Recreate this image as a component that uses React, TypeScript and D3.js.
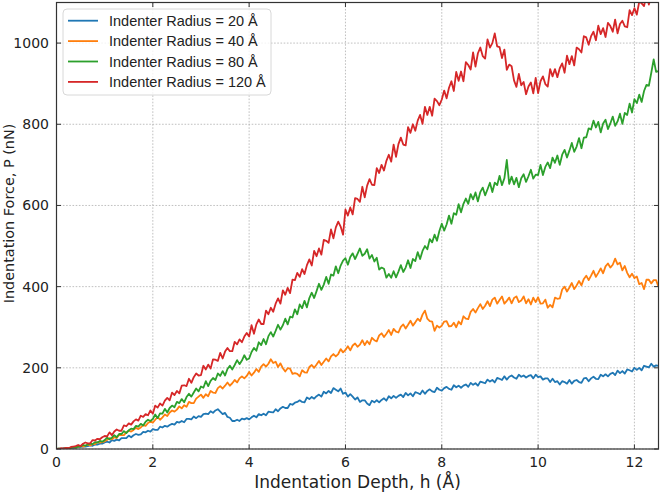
import React from "react";
import * as d3 from "d3";

// Indentation depth sampled every 0.05 Å from 0 to 12.5 Å
const depthStep = 0.05;

const seriesLabels = [
  "Indenter Radius = 20 Å",
  "Indenter Radius = 40 Å",
  "Indenter Radius = 80 Å",
  "Indenter Radius = 120 Å",
];

const seriesColors = ["#1f77b4", "#ff7f0e", "#2ca02c", "#d62728"];

// Indentation force P (nN) for each indenter radius, one row per 1 Å of depth
const force20 = [
  0, 1, 0, 2, 1, 2, 3, 3, 3, 5, 5, 6, 6, 7, 9, 8, 11, 11, 13, 13,
  16, 18, 16, 22, 20, 23, 21, 27, 27, 27, 33, 29, 34, 37, 35, 36, 42, 41, 45, 43,
  49, 47, 47, 55, 53, 57, 55, 59, 62, 60, 67, 65, 69, 66, 74, 74, 73, 80, 76, 81,
  79, 86, 87, 86, 93, 89, 95, 98, 92, 86, 89, 79, 77, 69, 69, 72, 69, 75, 73, 76,
  73, 78, 82, 78, 86, 83, 87, 83, 92, 91, 90, 98, 93, 100, 104, 101, 101, 111, 109, 114,
  116, 120, 116, 115, 127, 123, 128, 124, 130, 134, 129, 141, 137, 143, 138, 150, 146, 142, 149, 136,
  139, 129, 135, 129, 122, 127, 116, 120, 120, 112, 108, 119, 115, 120, 115, 121, 125, 119, 130, 125,
  131, 126, 131, 134, 128, 138, 132, 137, 130, 140, 138, 135, 144, 136, 143, 147, 142, 140, 151, 146,
  144, 150, 153, 148, 146, 157, 152, 156, 151, 156, 159, 153, 163, 158, 162, 156, 166, 164, 162, 171,
  166, 170, 164, 175, 173, 170, 179, 171, 178, 181, 176, 173, 183, 178, 181, 176, 180, 182, 174, 183,
  177, 179, 171, 174, 174, 165, 173, 165, 167, 159, 167, 165, 161, 170, 161, 168, 170, 165, 163, 174,
  175, 167, 174, 178, 173, 172, 183, 179, 184, 179, 185, 188, 182, 193, 187, 192, 186, 196, 194, 191,
  200, 195, 200, 194, 205, 203, 201, 210, 203, 206, 205,
];

const force40 = [
  0, 1, 0, 1, 3, 1, 3, 5, 3, 6, 8, 6, 8, 11, 9, 12, 12, 17, 16, 17,
  19, 22, 27, 24, 29, 27, 35, 34, 34, 41, 45, 43, 47, 52, 49, 53, 59, 57, 64, 68,
  65, 72, 79, 72, 78, 85, 81, 90, 95, 92, 97, 105, 100, 108, 104, 116, 113, 113, 124, 129,
  134, 126, 135, 130, 143, 139, 138, 150, 155, 149, 156, 164, 156, 162, 170, 164, 174, 179, 174, 180,
  190, 181, 188, 197, 190, 203, 209, 203, 210, 221, 212, 215, 202, 211, 199, 191, 199, 198, 185, 187,
  185, 179, 194, 189, 188, 202, 207, 200, 208, 217, 207, 215, 223, 216, 228, 234, 228, 234, 246, 238,
  244, 253, 243, 255, 260, 252, 257, 268, 256, 266, 258, 274, 268, 265, 280, 285, 276, 284, 293, 281,
  296, 289, 287, 301, 307, 297, 306, 316, 304, 312, 321, 315, 331, 341, 321, 315, 314, 291, 304, 299,
  304, 314, 315, 302, 303, 311, 300, 314, 307, 327, 321, 320, 338, 345, 336, 347, 357, 345, 353, 364,
  352, 368, 373, 358, 367, 376, 358, 365, 373, 359, 372, 376, 362, 366, 376, 359, 369, 356, 373, 362,
  374, 358, 359, 368, 348, 355, 349, 373, 370, 371, 393, 400, 388, 398, 409, 394, 403, 414, 403, 419,
  427, 416, 427, 439, 424, 434, 445, 433, 450, 457, 447, 454, 469, 455, 459, 440, 451, 434, 423, 432,
  421, 425, 406, 409, 394, 417, 417, 408, 416, 416, 400,
];

const force80 = [
  0, 1, 0, 1, 2, 2, 3, 5, 4, 6, 6, 10, 8, 11, 13, 12, 17, 16, 20, 18,
  22, 28, 24, 28, 34, 29, 37, 37, 44, 39, 46, 50, 49, 57, 55, 62, 58, 67, 72, 69,
  74, 85, 76, 88, 87, 99, 90, 101, 107, 103, 116, 113, 123, 115, 128, 136, 129, 139, 149, 142,
  154, 151, 167, 155, 168, 175, 170, 186, 180, 192, 181, 197, 205, 196, 207, 219, 209, 218, 231, 220,
  223, 239, 249, 242, 263, 256, 271, 258, 278, 288, 277, 291, 306, 294, 305, 321, 307, 326, 324, 344,
  332, 356, 347, 365, 349, 372, 385, 372, 389, 407, 392, 405, 424, 407, 430, 427, 450, 433, 452, 464,
  470, 454, 473, 482, 468, 481, 494, 476, 481, 492, 469, 478, 462, 471, 442, 447, 444, 422, 431, 422,
  438, 423, 437, 453, 436, 447, 465, 446, 468, 463, 485, 468, 488, 500, 492, 517, 509, 528, 513, 537,
  555, 538, 553, 575, 555, 581, 577, 603, 583, 604, 617, 604, 628, 615, 632, 610, 633, 644, 625, 640,
  656, 633, 656, 650, 673, 650, 667, 712, 653, 671, 652, 668, 645, 667, 677, 658, 672, 688, 666, 676,
  675, 700, 675, 695, 706, 692, 718, 705, 723, 700, 725, 737, 718, 735, 754, 732, 745, 766, 741, 767,
  768, 790, 787, 809, 792, 806, 780, 802, 811, 788, 802, 819, 796, 807, 826, 801, 828, 823, 851, 829,
  862, 852, 873, 855, 882, 897, 895, 927, 960, 929, 931,
];

const force120 = [
  0, 0, 2, 1, 3, 2, 5, 6, 7, 10, 7, 13, 16, 14, 14, 22, 21, 25, 24, 29,
  32, 31, 41, 34, 43, 48, 45, 45, 58, 56, 63, 60, 68, 73, 70, 82, 79, 86, 83, 95,
  87, 107, 102, 112, 107, 119, 126, 120, 139, 133, 143, 137, 156, 157, 155, 173, 163, 177, 186, 181,
  182, 205, 196, 208, 198, 221, 220, 217, 237, 223, 240, 249, 241, 241, 264, 258, 270, 263, 277, 286,
  277, 305, 284, 307, 319, 308, 308, 341, 332, 348, 338, 358, 371, 358, 391, 380, 397, 384, 417, 416,
  434, 424, 443, 431, 453, 467, 452, 488, 475, 494, 479, 515, 513, 508, 541, 519, 546, 560, 548, 528,
  590, 575, 595, 578, 618, 616, 609, 646, 620, 649, 665, 651, 650, 692, 680, 700, 686, 710, 725, 708,
  750, 720, 751, 767, 750, 748, 793, 779, 800, 784, 809, 823, 801, 843, 823, 843, 821, 863, 857, 847,
  861, 883, 864, 890, 906, 882, 929, 907, 930, 906, 953, 946, 935, 977, 942, 975, 989, 968, 962, 1009,
  989, 1000, 1024, 992, 990, 963, 984, 934, 947, 943, 908, 892, 924, 896, 904, 874, 893, 903, 876, 914,
  877, 906, 918, 899, 893, 936, 918, 936, 916, 938, 950, 927, 969, 948, 968, 945, 989, 985, 977, 1017,
  1014, 996, 1017, 1028, 1007, 1043, 1022, 1037, 1015, 1050, 1042, 1028, 1058, 1024, 1047, 1055, 1041, 1039, 1081, 1069,
  1086, 1070, 1102, 1098, 1091, 1120, 1095, 1116, 1126, 1111, 1107,
];

const seriesValues = [force20, force40, force80, force120];

const xTicks = [0, 2, 4, 6, 8, 10, 12];
const yTicks = [0, 200, 400, 600, 800, 1000];

const xLabel = "Indentation Depth, h (Å)";
const yLabel = "Indentation Force, P (nN)";

const W = 661;
const H = 496;
const plot = { left: 56.5, right: 658.5, top: 2.5, bottom: 449 };

const tickFont = "'DejaVu Sans', sans-serif";
const legendFont = "'Liberation Sans', Arial, sans-serif";

export default function App() {
  const x = d3.scaleLinear().domain([0, 12.5]).range([plot.left, plot.right]);
  const y = d3.scaleLinear().domain([0, 1100]).range([plot.bottom, plot.top]);

  const line = d3
    .line<number>()
    .x((_, i) => x(i * depthStep))
    .y((d) => y(d));

  const tickLen = 4.5;
  const legend = { x: 63, y: 9, w: 208, h: 86, rowH: 20.4 };

  return (
    <svg
      width={W}
      height={H}
      style={{ position: "absolute", left: 0, top: 0, background: "#fff" }}
    >
      <defs>
        <clipPath id="plot-clip">
          <rect
            x={plot.left}
            y={plot.top}
            width={plot.right - plot.left}
            height={plot.bottom - plot.top}
          />
        </clipPath>
      </defs>

      {/* grid */}
      <g stroke="#b0b0b0" strokeWidth={0.8} strokeDasharray="1.6,1.6">
        {xTicks.map((t) => (
          <line key={`gx${t}`} x1={x(t)} x2={x(t)} y1={plot.top} y2={plot.bottom} />
        ))}
        {yTicks.map((t) => (
          <line key={`gy${t}`} x1={plot.left} x2={plot.right} y1={y(t)} y2={y(t)} />
        ))}
      </g>

      {/* series */}
      <g clipPath="url(#plot-clip)" fill="none" strokeWidth={1.8} strokeLinejoin="round">
        {seriesValues.map((vals, k) => (
          <path key={k} d={line(vals) ?? ""} stroke={seriesColors[k]} />
        ))}
      </g>

      {/* frame */}
      <rect
        x={plot.left}
        y={plot.top}
        width={plot.right - plot.left}
        height={plot.bottom - plot.top}
        fill="none"
        stroke="#333"
        strokeWidth={1.2}
      />

      {/* inward ticks on all four sides */}
      <g stroke="#333" strokeWidth={1}>
        {xTicks.map((t) => (
          <g key={`tx${t}`}>
            <line x1={x(t)} x2={x(t)} y1={plot.bottom} y2={plot.bottom - tickLen} />
            <line x1={x(t)} x2={x(t)} y1={plot.top} y2={plot.top + tickLen} />
          </g>
        ))}
        {yTicks.map((t) => (
          <g key={`ty${t}`}>
            <line x1={plot.left} x2={plot.left + tickLen} y1={y(t)} y2={y(t)} />
            <line x1={plot.right} x2={plot.right - tickLen} y1={y(t)} y2={y(t)} />
          </g>
        ))}
      </g>

      {/* tick labels */}
      <g fontFamily={tickFont} fontSize={14} fill="#222">
        {xTicks.map((t) => (
          <text key={`lx${t}`} x={x(t)} y={467} textAnchor="middle">
            {t}
          </text>
        ))}
        {yTicks.map((t) => (
          <text key={`ly${t}`} x={49} y={y(t)} dy="0.36em" textAnchor="end">
            {t}
          </text>
        ))}
      </g>

      {/* axis titles */}
      <text
        x={(plot.left + plot.right) / 2}
        y={488}
        textAnchor="middle"
        fontFamily={tickFont}
        fontSize={17}
        fill="#222"
      >
        {xLabel}
      </text>
      <text
        transform="translate(14, 213.5) rotate(-90)"
        textAnchor="middle"
        fontFamily={tickFont}
        fontSize={14.4}
        fill="#222"
      >
        {yLabel}
      </text>

      {/* legend */}
      <g>
        <rect
          x={legend.x}
          y={legend.y}
          width={legend.w}
          height={legend.h}
          rx={4}
          fill="#fff"
          fillOpacity={0.8}
          stroke="#d8d8d8"
          strokeWidth={1}
        />
        {seriesLabels.map((label, k) => {
          const ly = legend.y + 11.7 + k * legend.rowH;
          return (
            <g key={label}>
              <line
                x1={legend.x + 5}
                x2={legend.x + 35}
                y1={ly}
                y2={ly}
                stroke={seriesColors[k]}
                strokeWidth={1.8}
              />
              <text
                x={legend.x + 46}
                y={ly}
                dy="0.36em"
                fontFamily={legendFont}
                fontSize={14.5}
                fill="#222"
              >
                {label}
              </text>
            </g>
          );
        })}
      </g>
    </svg>
  );
}
